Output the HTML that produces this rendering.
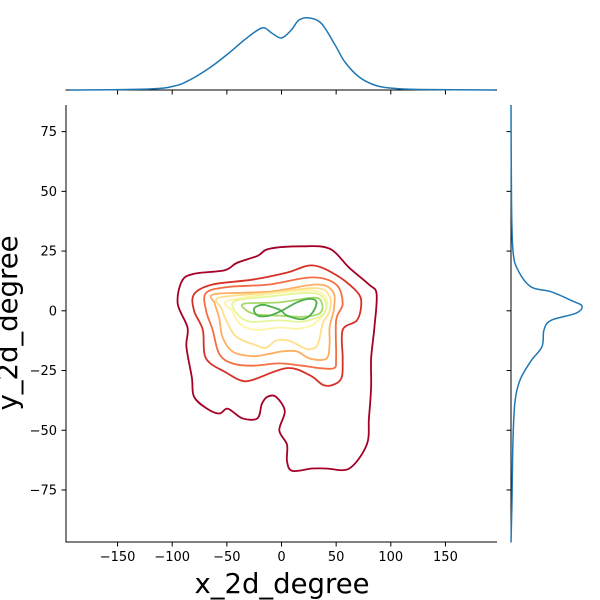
<!DOCTYPE html>
<html><head><meta charset="utf-8">
<style>
html,body{margin:0;padding:0;background:#fff;}
svg{display:block;font-family:"DejaVu Sans","Liberation Sans",sans-serif;}
</style></head>
<body>
<svg id="chart" width="600" height="600" viewBox="0 0 600 600">
  <g id="contours"></g>
  <g id="axes"></g>
  <path id="topKde" fill="none" stroke="#1f77b4" stroke-width="1.5"/>
  <path id="rightKde" fill="none" stroke="#1f77b4" stroke-width="1.5"/>
  <text x="282" y="593" text-anchor="middle" font-size="27.5">x_2d_degree</text>
  <text transform="translate(17,323) rotate(-90)" text-anchor="middle" font-size="27.5">y_2d_degree</text>
</svg>
<script>
const xTicks = [-150,-100,-50,0,50,100,150];
const yTicks = [75,50,25,0,-25,-50,-75];
const levelColors = ["#a50026","#d73027","#f46d43","#fdae61","#fee08b","#fff3a8","#e6f598","#a6d96a","#4daf4a"];
const level1 = [[-91,12.5],[-80,15.5],[-52,17],[-41,20],[-22,23],[-11,26],[19,27],[44,26],[62,18],[80,11],[87,7],[85,-7],[82,-20],[82,-32],[80,-45],[78,-56],[62,-66],[41,-66],[28,-66],[10,-67],[5,-63],[5,-56],[-2,-50],[3,-42],[-5,-36],[-13,-36],[-18,-39],[-22,-45],[-36,-45],[-49,-41],[-57,-43],[-68,-41],[-80,-36],[-82,-28],[-87,-15],[-86,-7],[-95,3]];
const level2 = [[-80,7],[-63,11],[-27,13],[5,16],[28,19],[50,15],[69,8],[73,3],[69,-4],[56,-8],[56,-20],[55,-28],[47,-31],[38,-31],[26,-27],[5,-24],[-27,-29],[-38,-29],[-50,-26],[-69,-20],[-72,-8],[-80,0]];
const level3 = [[-69,7.5],[-48,10],[-11,11],[28,14],[50,11],[56,3],[50,-4],[50,-20],[48,-24],[35,-24],[19,-23],[-2,-22],[-27,-23],[-45,-22],[-57,-18],[-63,-8],[-69,0]];
const level4 = [[-61,7],[-11,8],[32,11],[47,8],[48,1],[44,-7],[44,-14],[41,-20],[26,-20],[14,-17],[1,-17],[-11,-18],[-27,-19],[-45,-17],[-54,-11],[-57,-3],[-61,3]];
const level5 = [[-57,5.5],[-11,7.5],[32,9.5],[44,6],[44,0],[38,-5],[35,-11],[32,-15],[23,-16],[7,-12.5],[-5,-12.5],[-14,-15.5],[-23,-14.5],[-41,-11],[-49,-5.5],[-55,1]];
const level6 = [[-50,4],[-11,7],[28,8.5],[41,5],[39,-1],[28,-6],[14,-7.5],[-2,-7],[-23,-8],[-38,-5.5],[-45,0]];
const level7 = [[-43,4],[-11,6],[28,7.5],[40,4],[38,-1.5],[19,-4.5],[-2,-4],[-29,-4.5],[-41,-1]];
const level8 = [[-34,3],[-2,3.5],[30,5.5],[37,3],[35,-1],[19,-2.5],[-2,-2],[-23,-1.5],[-33,0.5]];
const level9 = [[-25,1],[-17,2.5],[-5,1],[0,0],[5,-2],[19,-3.5],[28,-1],[32,3.5],[26,5],[14,3.5],[0,0],[-11,-2],[-22,-2]];
const levels = [level1,level2,level3,level4,level5,level6,level7,level8,level9];
const xMarginX = [-194,-121,-98,-84,-66,-48,-34,-18,-9,0,9,16,26,37,49,58,71,85,99,126,195];
const xMarginD = [0,1,4,10,22,37,50,62,57,52,60,70,72,66,45,28,13,5,2,0.5,0];
const yMarginY = [86,46,25,17,10,8,4,2,-1,-4,-8,-15,-21,-29,-38,-54,-79,-97];
const yMarginD = [0,0.5,2,7,20,40,62,71,65,40,33,31,20,9,4,2,1,0];

const X = v => 281.5 + 1.093*v;
const Y = v => 310.8 - 2.389*v;
const TD = d => 90 - d;
const RD = d => 511 + d;
const NS = "http://www.w3.org/2000/svg";

function smooth(pts, closed){
  const n = pts.length; let d = "M"+pts[0][0].toFixed(1)+","+pts[0][1].toFixed(1);
  const segs = closed ? n : n-1;
  for(let i=0;i<segs;i++){
    const p0 = pts[(i-1+n)%n], p1 = pts[i], p2 = pts[(i+1)%n], p3 = pts[(i+2)%n];
    const a = (!closed && i===0) ? p1 : p0;
    const b = (!closed && i+2>=n) ? p2 : p3;
    const c1 = [p1[0]+(p2[0]-a[0])/6, p1[1]+(p2[1]-a[1])/6];
    const c2 = [p2[0]-(b[0]-p1[0])/6, p2[1]-(b[1]-p1[1])/6];
    d += "C"+c1[0].toFixed(1)+","+c1[1].toFixed(1)+" "+c2[0].toFixed(1)+","+c2[1].toFixed(1)+" "+p2[0].toFixed(1)+","+p2[1].toFixed(1);
  }
  return closed ? d+"Z" : d;
}

const cg = document.getElementById("contours");
levels.forEach((lv,i)=>{
  const p = document.createElementNS(NS,"path");
  
  
  p.setAttribute("d", smooth(lv.map(q=>[X(q[0]),Y(q[1])]), true));
  p.setAttribute("fill","none");
  p.setAttribute("stroke",levelColors[i]);
  p.setAttribute("stroke-width","1.8");
  cg.appendChild(p);
});

document.getElementById("topKde").setAttribute("d", smooth(xMarginX.map((v,i)=>[X(v),TD(xMarginD[i])]), false));
document.getElementById("rightKde").setAttribute("d", smooth(yMarginY.map((v,i)=>[RD(yMarginD[i]),Y(v)]), false));

const ag = document.getElementById("axes");
function line(x1,y1,x2,y2,name){
  const l = document.createElementNS(NS,"line");
  
  
  l.setAttribute("x1",x1);l.setAttribute("y1",y1);l.setAttribute("x2",x2);l.setAttribute("y2",y2);
  l.setAttribute("stroke","#000");l.setAttribute("stroke-width","1");
  ag.appendChild(l);
}
function text(x,y,s,anchor,name){
  const t = document.createElementNS(NS,"text");
  
  
  t.setAttribute("x",x);t.setAttribute("y",y);t.setAttribute("text-anchor",anchor);
  t.setAttribute("font-size","13");t.textContent=s;
  ag.appendChild(t);
}
line(66,105,66,542.5,"y-axis-spine");
line(65.5,542,497,542,"x-axis-spine");
line(65.5,90,497,90,"top-marginal-spine");
line(511,105,511,542.5,"right-marginal-spine");
xTicks.forEach(v=>{
  line(X(v),542,X(v),546.5,"x-tick");
  line(X(v),90,X(v),94.5,"top-marginal-tick");
  text(X(v),561,String(v).replace("-","\u2212"),"middle","x-tick-label");
});
yTicks.forEach(v=>{
  line(61.5,Y(v),66,Y(v),"y-tick");
  line(506.5,Y(v),511,Y(v),"right-marginal-tick");
  text(57,Y(v)+4.5,String(v).replace("-","\u2212"),"end","y-tick-label");
});
</script>
</body></html>
